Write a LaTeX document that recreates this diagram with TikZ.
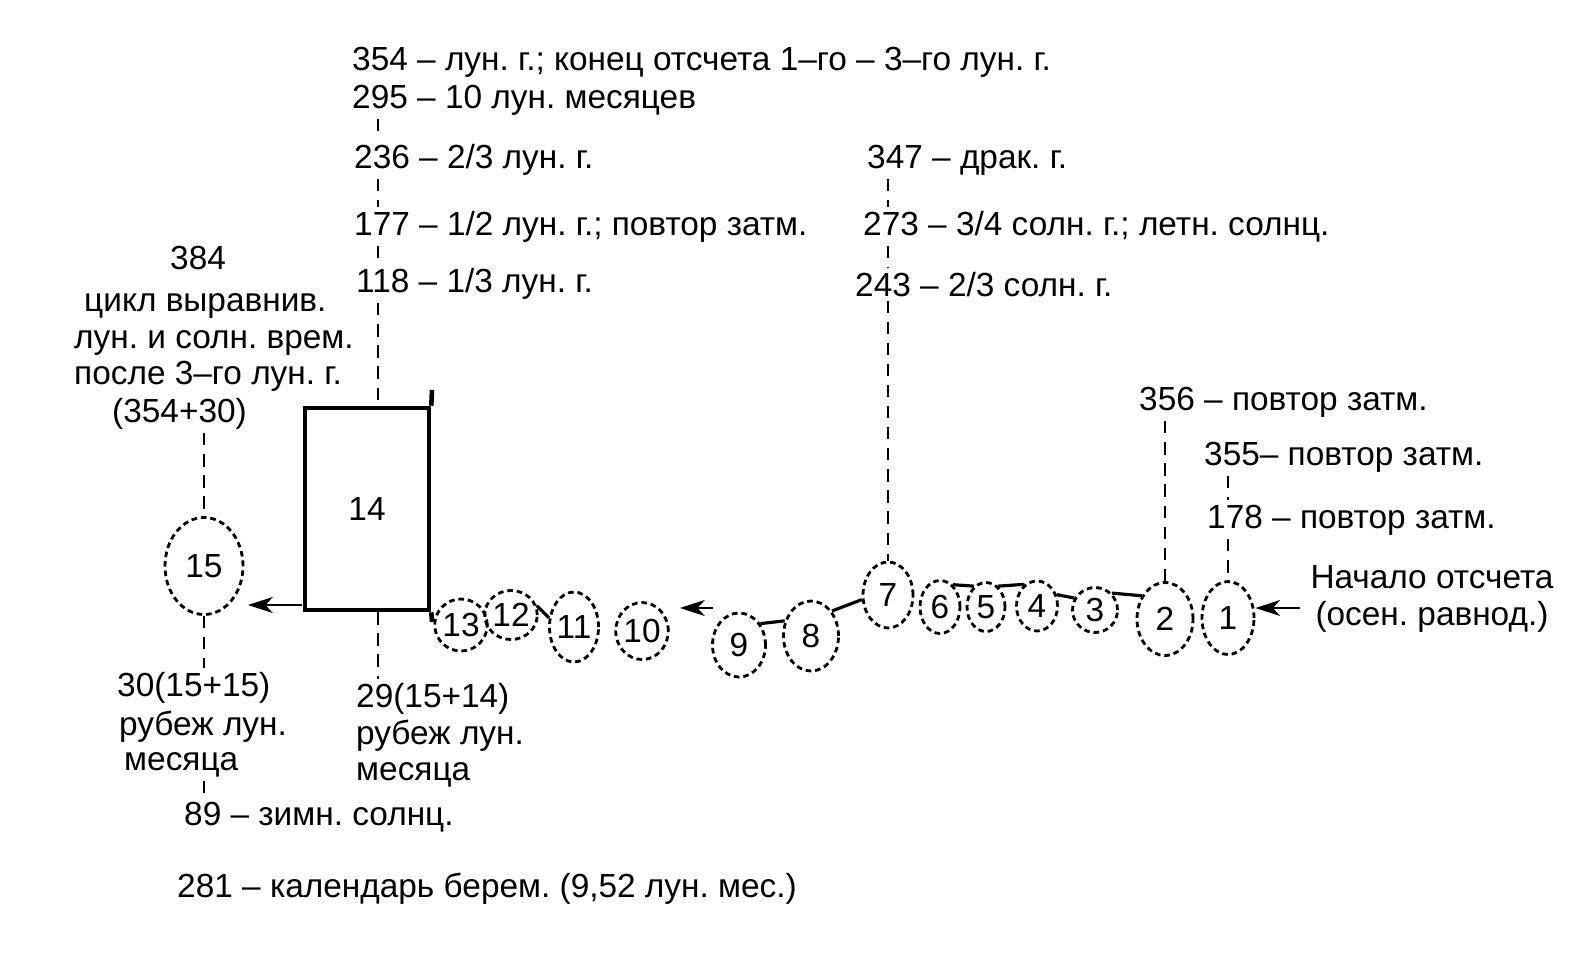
\documentclass[tikz,border=0pt]{standalone}
\usepackage{fontspec}
\setmainfont{Liberation Sans}
\usetikzlibrary{shapes.geometric,arrows.meta}
\frenchspacing

\tikzset{
	cell/.style={ellipse, draw, line width=0.8pt, dash pattern=on 1.6pt off 1.1pt, inner sep=0pt},
	lbl/.style={anchor=base west, inner sep=1pt},
	link/.style={line width=0.6pt, dash pattern=on 3.5pt off 2.5pt},
	joint/.style={line width=0.9pt},
	arr/.style={line width=0.7pt, -{Stealth[length=7pt,width=4.5pt,inset=2pt]}},
	box/.style={line width=1.3pt}
}

\begin{document}
\begin{tikzpicture}[font=\fontsize{9.5}{10.5}\selectfont]
				\useasboundingbox (0,0) rectangle (15.91,9.60);
				
				% the box and the left cell
				\node[draw, box, minimum width=1.24cm, minimum height=2.02cm] (n14) at (3.67,4.51) {14};
				\coordinate (axL) at (3.78,5.52);
				\coordinate (k14) at (4.32,5.70);
				\coordinate (k14b) at (4.32,3.38);
				\draw[box] (n14.north east) -- (k14);
				\draw[box] (n14.south east) -- (k14b);
				\node[cell, minimum width=0.78cm, minimum height=0.97cm] (n15) at (2.04,3.94) {15};
				\coordinate (s14) at (3.02,3.55);
				\coordinate (t15) at (2.48,3.55);
				\draw[arr] (s14) -- (t15);
				
				% the chain of days
				\node[cell, minimum width=0.46cm, minimum height=0.52cm] (n13) at (4.61,3.35) {13};
				\node[cell, minimum width=0.38cm, minimum height=0.49cm] (n12) at (5.11,3.45) {12};
				\node[cell, minimum width=0.46cm, minimum height=0.70cm] (n11) at (5.74,3.33) {11};
				\node[cell, minimum width=0.50cm, minimum height=0.57cm] (n10) at (6.42,3.29) {10};
				\node[cell, minimum width=0.53cm, minimum height=0.64cm] (n9) at (7.39,3.15) {9};
				\node[cell, minimum width=0.55cm, minimum height=0.70cm] (n8) at (8.11,3.24) {8};
				\node[cell, minimum width=0.50cm, minimum height=0.66cm] (n7) at (8.88,3.65) {7};
				\node[cell, minimum width=0.40cm, minimum height=0.53cm] (n6) at (9.40,3.53) {6};
				\node[cell, minimum width=0.38cm, minimum height=0.49cm] (n5) at (9.86,3.53) {5};
				\node[cell, minimum width=0.41cm, minimum height=0.50cm] (n4) at (10.37,3.54) {4};
				\node[cell, minimum width=0.45cm, minimum height=0.45cm] (n3) at (10.95,3.50) {3};
				\node[cell, minimum width=0.56cm, minimum height=0.73cm] (n2) at (11.65,3.41) {2};
				\node[cell, minimum width=0.52cm, minimum height=0.73cm] (n1) at (12.28,3.42) {1};
				
				\draw[joint] (n12.20) -- (n11.160);
				\draw[joint] (n9.45) -- (n8.150);
				\draw[joint] (n8.50) -- (n7.190);
				\draw[joint] (n6.60) -- (n5.120);
				\draw[joint] (n5.60) -- (n4.120);
				\draw[joint] (n4.30) -- (n3.150);
				\draw[joint] (n3.45) -- (n2.135);
				\coordinate (a9) at (7.13,3.52);
				\coordinate (a10) at (6.80,3.52);
				\draw[arr] (a9) -- (a10);
				\coordinate (a1) at (13.00,3.52);
				\draw[arr] (a1) -- (n1.east |- a1);
				\node[align=center, inner sep=1pt] (start) at (14.32,3.61) {Начало отсчета\\(осен. равнод.)};
				
				% labels over the box
				\node[lbl] (t354) at (3.48,8.90) {354 – лун. г.; конец отсчета 1–го – 3–го лун. г.};
				\node[lbl] (t295) at (3.48,8.52) {295 – 10 лун. месяцев};
				\node[lbl] (t236) at (3.50,7.92) {236 – 2/3 лун. г.};
				\node[lbl] (t177) at (3.50,7.25) {177 – 1/2 лун. г.; повтор затм.};
				\node[lbl] (t118) at (3.52,6.68) {118 – 1/3 лун. г.};
				\draw[link] (t295.south -| axL) -- (t236.north -| axL);
				\draw[link] (t236.south -| axL) -- (t177.north -| axL);
				\draw[link] (t177.south -| axL) -- (t118.north -| axL);
				\draw[link] (t118.south -| axL) -- (axL);
				
				% labels over 7
				\node[lbl] (t347) at (8.63,7.92) {347 – драк. г.};
				\node[lbl] (t273) at (8.59,7.25) {273 – 3/4 солн. г.; летн. солнц.};
				\node[lbl] (t243) at (8.51,6.64) {243 – 2/3 солн. г.};
				\draw[link] (t347.south -| n7) -- (t273.north -| n7);
				\draw[link] (t273.south -| n7) -- (t243.north -| n7);
				\draw[link] (t243.south -| n7) -- (n7);
				
				% labels over 2 and 1
				\node[lbl] (t356) at (11.35,5.50) {356 – повтор затм.};
				\node[lbl] (t355) at (12.00,4.95) {355– повтор затм.};
				\node[lbl] (t178) at (12.03,4.32) {178 – повтор затм.};
				\draw[link] (t356.south -| n2) -- (n2);
				\draw[link] (t355.south -| n1) -- (t178.north -| n1);
				\draw[link] (t178.south -| n1) -- (n1);
				
				% labels round 15
				\node[lbl] (t384) at (1.66,6.91) {384};
				\node[lbl] (t384a) at (0.80,6.49) {цикл выравнив.};
				\node[lbl] (t384b) at (0.70,6.12) {лун. и солн. врем.};
				\node[lbl] (t384c) at (0.70,5.76) {после 3–го лун. г.};
				\node[lbl] (t384d) at (1.08,5.38) {(354+30)};
				\draw[link] (t384d.south -| n15) -- (n15);
				
				\node[lbl] (t30) at (1.13,2.64) {30(15+15)};
				\node[lbl] (t30a) at (1.15,2.25) {рубеж лун.};
				\node[lbl] (t30b) at (1.20,1.90) {месяца};
				\draw[link] (n15) -- (t30.north -| n15);
				\node[lbl] (t89) at (1.80,1.35) {89 – зимн. солнц.};
				\draw[link] (t30b.south -| n15) -- (t89.north -| n15);
				\node[lbl] (t281) at (1.73,0.63) {281 – календарь берем. (9,52 лун. мес.)};
				
				% labels under the box
				\node[lbl] (t29) at (3.52,2.53) {29(15+14)};
				\node[lbl] (t29a) at (3.52,2.16) {рубеж лун.};
				\node[lbl] (t29b) at (3.52,1.80) {месяца};
				\draw[link] (n14.south -| axL) -- (t29.north -| axL);
\end{tikzpicture}
\end{document}
